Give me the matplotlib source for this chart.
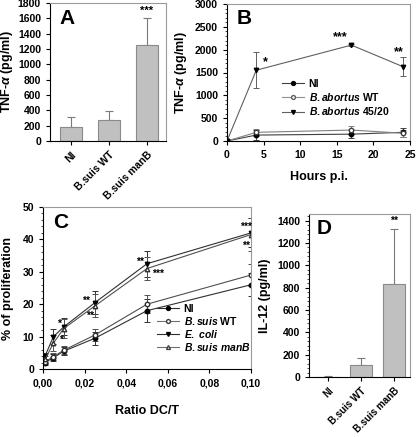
import matplotlib
matplotlib.use("Agg")
import matplotlib.pyplot as plt
from matplotlib.ticker import MultipleLocator, FuncFormatter
from matplotlib.lines import Line2D
import numpy as np

plt.rcParams['font.family'] = ['Liberation Sans', 'DejaVu Sans']
plt.rcParams['font.weight'] = 'bold'
plt.rcParams['mathtext.fontset'] = 'custom'
plt.rcParams['mathtext.it'] = 'Liberation Sans:bold:italic'
plt.rcParams['mathtext.rm'] = 'Liberation Sans:bold'
plt.rcParams['mathtext.bf'] = 'Liberation Sans:bold'

# ---- Data ----
a_labels = ['NI', 'B.suis WT', 'B.suis manB']
a_vals = [180, 280, 1250]
a_err = [130, 110, 350]
a_sig = ['', '', '***']

b_hours = [0, 4, 17, 24]
b_ni = [0, 130, 150, 190]
b_ni_err = [0, 100, 80, 100]
b_wt = [0, 190, 240, 170]
b_wt_err = [0, 80, 80, 80]
b_4520 = [0, 1550, 2100, 1630]
b_4520_err = [0, 400, 20, 200]

c_ratio = [0.001, 0.005, 0.01, 0.025, 0.05, 0.1]
c_ni = [2.0, 3.5, 5.5, 9.5, 18.0, 26.0]
c_ni_err = [0.8, 1.0, 1.2, 2.0, 3.5, 3.5]
c_wt = [2.2, 3.8, 5.8, 10.5, 20.0, 29.0]
c_wt_err = [0.8, 1.0, 1.2, 2.0, 2.8, 3.5]
c_ecoli = [4.0, 10.0, 13.0, 20.5, 32.5, 42.0]
c_ecoli_err = [1.0, 2.3, 2.6, 3.5, 4.0, 4.5]
c_manb = [3.0, 8.0, 12.5, 19.5, 31.0, 41.5]
c_manb_err = [1.0, 2.5, 3.0, 3.5, 3.5, 5.0]

d_labels = ['NI', 'B.suis WT', 'B.suis manB']
d_vals = [3, 110, 830]
d_err = [3, 60, 500]
d_sig = ['', '', '**']

W, H = 416, 437
fig = plt.figure(figsize=(W/100, H/100), dpi=100)

def ax_px(l, r, t, b):
    return fig.add_axes([l/W, (H-b)/H, (r-l)/W, (b-t)/H])

FS = 7.5
bar_c = '#c0c0c0'
edge_c = '#8a8a8a'
frame_c = '#9a9a9a'

def style(ax):
    for s in ['top', 'right']:
        ax.spines[s].set_color(frame_c)
        ax.spines[s].set_linewidth(0.8)
    for s in ['left', 'bottom']:
        ax.spines[s].set_color('black')
        ax.spines[s].set_linewidth(0.8)
    ax.tick_params(labelsize=FS, length=3, width=0.8, direction='out')
    for lab in ax.get_xticklabels() + ax.get_yticklabels():
        lab.set_fontweight('bold')

def handle(color, marker, mfc, mec):
    return Line2D([], [], color=color, marker=marker, ms=2.8, mfc=mfc, mec=mec, lw=0.8)

legkw = dict(frameon=False, fontsize=7.5, handlelength=2.1, handletextpad=0.45,
             borderpad=0, borderaxespad=0, loc='upper left', bbox_transform=fig.transFigure)

# ---- Panel A ----
axA = ax_px(50, 166, 3, 141)
x = np.arange(len(a_vals))
axA.bar(x, a_vals, width=0.58, color=bar_c, edgecolor=edge_c, linewidth=0.8, zorder=2)
axA.errorbar(x, a_vals, yerr=[np.zeros(3), a_err], fmt='none', ecolor='#7a7a7a',
             elinewidth=0.8, capsize=3, capthick=0.8, zorder=1)
for xi, v, e, s in zip(x, a_vals, a_err, a_sig):
    if s:
        axA.text(xi, v + e + 30, s, ha='center', va='bottom', fontsize=8)
axA.set_xlim(-0.55, 2.5)
axA.set_ylim(0, 1800)
axA.yaxis.set_major_locator(MultipleLocator(200))
axA.set_xticks(x)
axA.set_xticklabels(a_labels, rotation=45, ha='right', rotation_mode='anchor')
axA.set_ylabel(r'TNF-$\alpha$ (pg/ml)', fontsize=9, fontweight='bold', labelpad=2)
axA.text(0.08, 0.96, 'A', transform=axA.transAxes, fontsize=15, fontweight='bold', va='top')
style(axA)
for lab in axA.get_xticklabels():
    lab.set_fontsize(7.5)

# ---- Panel B ----
axB = ax_px(227, 410, 4, 141)
ekw = dict(lw=0.8, elinewidth=0.7, capsize=2.5, capthick=0.7, ms=3.2)
axB.errorbar(b_hours, b_ni, yerr=b_ni_err, color='#404040', marker='o', mfc='black', mec='black', **ekw)
axB.errorbar(b_hours, b_wt, yerr=b_wt_err, color='#808080', marker='o', mfc='white', mec='#404040', **ekw)
axB.errorbar(b_hours, b_4520, yerr=b_4520_err, color='#606060', marker='v', mfc='black', mec='black', **ekw)
axB.text(5.2, 1650, '*', fontsize=9, ha='center')
axB.text(15.5, 2200, '***', fontsize=9, ha='center')
axB.text(23.5, 1870, '**', fontsize=9, ha='center')
axB.set_xlim(0, 25)
axB.set_ylim(0, 3000)
axB.xaxis.set_major_locator(MultipleLocator(5))
axB.yaxis.set_major_locator(MultipleLocator(500))
axB.yaxis.set_minor_locator(MultipleLocator(100))
axB.set_xlabel('Hours p.i.', fontsize=9, fontweight='bold', labelpad=8)
axB.set_ylabel(r'TNF-$\alpha$ (pg/ml)', fontsize=9, fontweight='bold', labelpad=4)
axB.text(0.05, 0.96, 'B', transform=axB.transAxes, fontsize=15, fontweight='bold', va='top')
hB = [handle('#404040', 'o', 'black', 'black'),
      handle('#909090', 'o', 'white', '#606060'),
      handle('#606060', 'v', 'black', 'black')]
axB.legend(hB, ['NI', r'$\mathit{B.abortus}$ WT', r'$\mathit{B.abortus}$ 45/20'],
           bbox_to_anchor=(282/W, 1 - 79/H), labelspacing=0.2, **legkw)
style(axB)
axB.tick_params(axis='y', which='minor', length=1.5, width=0.5)

# ---- Panel C ----
axC = ax_px(43, 251, 207, 369)
axC.errorbar(c_ratio, c_ni, yerr=c_ni_err, color='#303030', marker='o', mfc='black', mec='black', **ekw)
axC.errorbar(c_ratio, c_wt, yerr=c_wt_err, color='#505050', marker='o', mfc='white', mec='#303030', **ekw)
axC.errorbar(c_ratio, c_ecoli, yerr=c_ecoli_err, color='#303030', marker='v', mfc='black', mec='black', **ekw)
axC.errorbar(c_ratio, c_manb, yerr=c_manb_err, color='#505050', marker='^', mfc='white', mec='#303030', **ekw)
for tx, ty, s in [(0.0078, 13.8, '*'), (0.0088, 9.0, '*'), (0.0205, 21.0, '**'),
                  (0.0225, 16.5, '**'), (0.0465, 33.0, '**'), (0.0555, 29.5, '***'),
                  (0.0975, 44.0, '***'), (0.0975, 38.0, '**')]:
    axC.text(tx, ty, s, fontsize=7.5, ha='center', va='center')
axC.set_xlim(0, 0.1)
axC.set_ylim(0, 50)
axC.xaxis.set_major_locator(MultipleLocator(0.02))
axC.yaxis.set_major_locator(MultipleLocator(10))
axC.yaxis.set_minor_locator(MultipleLocator(2))
axC.xaxis.set_major_formatter(FuncFormatter(lambda v, p: ('%.2f' % v).replace('.', ',')))
axC.set_xlabel('Ratio DC/T', fontsize=9, fontweight='bold', labelpad=12)
axC.set_ylabel('% of proliferation', fontsize=9, fontweight='bold', labelpad=6)
axC.text(0.05, 0.96, 'C', transform=axC.transAxes, fontsize=15, fontweight='bold', va='top')
hC = [handle('#303030', 'o', 'black', 'black'),
      handle('#707070', 'o', 'white', '#404040'),
      handle('#303030', 'v', 'black', 'black'),
      handle('#707070', '^', 'white', '#404040')]
axC.legend(hC, ['NI', r'$\mathit{B.suis}$ WT', r'$\mathit{E.\ coli}$', r'$\mathit{B.suis\ manB}$'],
           bbox_to_anchor=(157/W, 1 - 304/H), labelspacing=0.1, **legkw)
style(axC)
axC.tick_params(axis='y', which='minor', length=1.5, width=0.5)

# ---- Panel D ----
axD = ax_px(309, 410, 214, 377)
x = np.arange(len(d_vals))
axD.bar(x, d_vals, width=0.67, color=bar_c, edgecolor=edge_c, linewidth=0.8, zorder=2)
axD.errorbar(x, d_vals, yerr=[np.zeros(3), d_err], fmt='none', ecolor='#7a7a7a',
             elinewidth=0.8, capsize=3, capthick=0.8, zorder=1)
for xi, v, e, s in zip(x, d_vals, d_err, d_sig):
    if s:
        axD.text(xi, v + e + 25, s, ha='center', va='bottom', fontsize=7.5)
axD.set_xlim(-0.58, 2.48)
axD.set_ylim(0, 1460)
axD.yaxis.set_major_locator(MultipleLocator(200))
axD.yaxis.set_minor_locator(MultipleLocator(40))
axD.set_xticks(x)
axD.set_xticklabels(d_labels, rotation=45, ha='right', rotation_mode='anchor')
axD.set_ylabel('IL-12 (pg/ml)', fontsize=9, fontweight='bold', labelpad=4)
axD.text(0.08, 0.97, 'D', transform=axD.transAxes, fontsize=15, fontweight='bold', va='top')
style(axD)
for lab in axD.get_xticklabels():
    lab.set_fontsize(7)
axD.tick_params(axis='y', which='minor', length=1.5, width=0.5)

fig.savefig('out.png', dpi=100)
